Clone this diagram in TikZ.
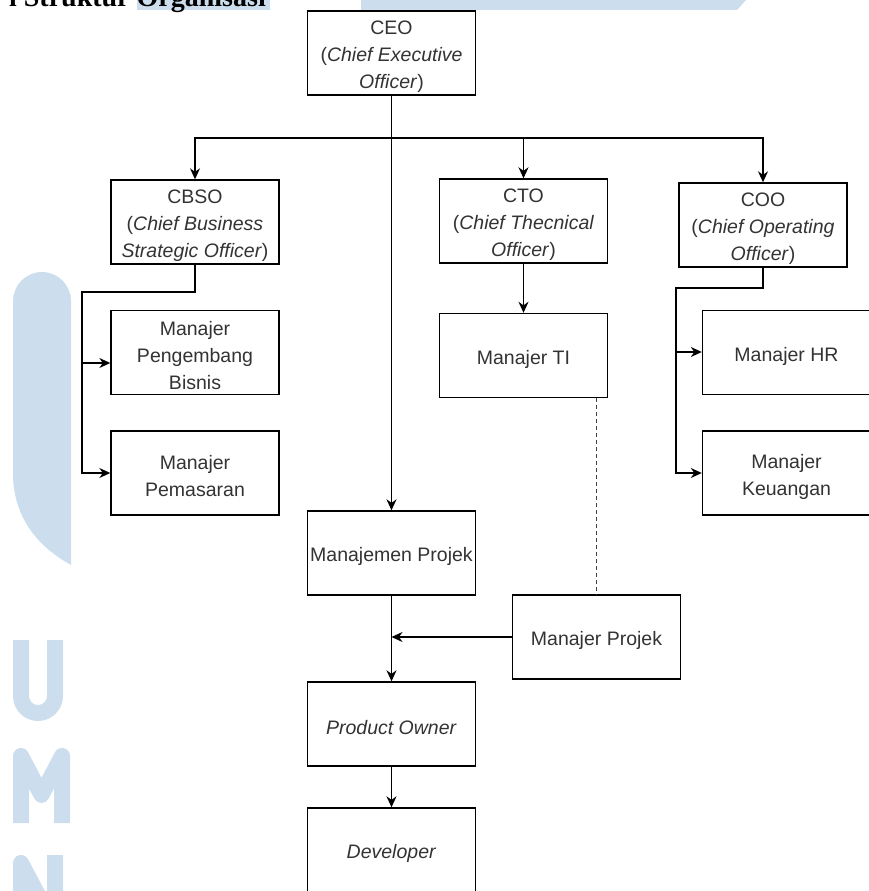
\documentclass[tikz,border=0pt]{standalone}
\usepackage{fontspec}
\setmainfont{Liberation Sans}
\newfontfamily\titlefont{Liberation Serif}
\usetikzlibrary{arrows.meta}
\definecolor{wm}{RGB}{204,222,238}
\definecolor{txt}{RGB}{51,51,51}
\tikzset{
  box/.style={draw=black, line width=1.4pt, fill=white, minimum width=168pt, minimum height=84pt,
    inner sep=0pt},
  boxlbl/.style={text=txt, font=\fontsize{19.5}{27}\selectfont, align=center, inner sep=0pt, yshift=-3.5pt},
  conn/.style={line width=1.4pt, draw=black},
  arr/.style={conn, -{Stealth[length=11pt,width=10pt]}},
  thickconn/.style={line width=2.6pt, draw=black, line join=miter},
  dashconn/.style={line width=1.1pt, draw=black!75, dash pattern=on 4pt off 3pt},
  wmstroke/.style={draw=wm, line width=16pt, line join=round, line cap=butt}
}
\begin{document}
\begin{tikzpicture}[x=1pt,y=-1pt]
\useasboundingbox (0,0) rectangle (869,891);
\clip (0,0) rectangle (869,891);
% watermark
\fill[wm] (137,0) rectangle (270,10);
\fill[wm] (361,0) -- (746,0) -- (737,10) -- (361,10) -- cycle;
\fill[wm] (13,301) arc (180:360:29) -- (71,565) .. controls (35,545) and (13,515) .. (13,473) -- cycle;
\draw[wmstroke] (21,640) -- (21,696) arc (180:0:17) -- (55,640);
\draw[wmstroke] (21,823) -- (21,756) -- (41.5,795) -- (62,756) -- (62,823);
\draw[wmstroke] (21,940) -- (21,863) -- (55,927) -- (55,855);
% title (cut off at the top edge, as in the reference)
\node[anchor=base east, inner sep=0, font=\titlefont\bfseries\fontsize{28}{30}\selectfont] (title) at (266,7) {l Struktur Organisasi};
% boxes
\node[box, label={[boxlbl]center:{CEO\\(\textit{Chief Executive}\\\textit{Officer})}}] (CEO) at (391.5,53) {};
\node[box, label={[boxlbl]center:{CBSO\\(\textit{Chief Business}\\\textit{Strategic Officer})}}] (CBSO) at (195,222) {};
\node[box, label={[boxlbl]center:{Manajer\\Pengembang\\Bisnis}}] (MPB) at (195,352.5) {};
\node[box, label={[boxlbl]center:{Manajer\\Pemasaran}}] (MPem) at (195,473) {};
\node[box, label={[boxlbl]center:{CTO\\(\textit{Chief Thecnical}\\\textit{Officer})}}] (CTO) at (523.5,221) {};
\node[box, label={[boxlbl]center:{Manajer TI}}] (TI) at (523.5,355.5) {};
\node[box, label={[boxlbl]center:{COO\\(\textit{Chief Operating}\\\textit{Officer})}}] (COO) at (763,225) {};
\node[box, label={[boxlbl]center:{Manajer HR}}] (HR) at (786.5,352.5) {};
\node[box, label={[boxlbl]center:{Manajer\\Keuangan}}] (Keu) at (786.5,473) {};
\node[box, label={[boxlbl]center:{Manajemen Projek}}] (MPj) at (391.5,553) {};
\node[box, label={[boxlbl]center:{Manajer Projek}}] (MPrj) at (596.5,637) {};
\node[box, label={[boxlbl]center:{\textit{Product Owner}}}] (PO) at (391.5,724) {};
\node[box, label={[boxlbl]center:{\textit{Developer}}}] (Dev) at (391.5,850) {};
% connectors
\coordinate (bus) at (391.5,138);
\draw[arr] (CEO) -- (MPj);
\draw[arr] (bus) -| (CBSO.north);
\draw[arr] (bus) -| (CTO.north);
\draw[arr] (bus) -| (COO.north);
\coordinate (cb1) at (82,292);
\coordinate (cb2) at (82,363);
\coordinate (cb3) at (82,473);
\draw[thickconn] (CBSO.south) |- (cb1) -- (cb2);
\draw[arr] (cb2) -- (cb2 -| MPB.west);
\draw[arr] (cb2) -- (cb3) -- (cb3 -| MPem.west);
\coordinate (co1) at (676,288);
\coordinate (co2) at (676,352);
\coordinate (co3) at (676,473);
\draw[thickconn] (COO.south) |- (co1) -- (co2);
\draw[arr] (co2) -- (co2 -| HR.west);
\draw[arr] (co2) -- (co3) -- (co3 -| Keu.west);
\draw[arr] (CTO) -- (TI);
\draw[dashconn] (MPrj.north |- TI.south) -- (MPrj.north);
\draw[arr] (MPj) -- (PO);
\draw[arr] (MPrj.west) -- (MPrj.west -| MPj.south);
\draw[arr] (PO) -- (Dev);
\end{tikzpicture}
\end{document}
